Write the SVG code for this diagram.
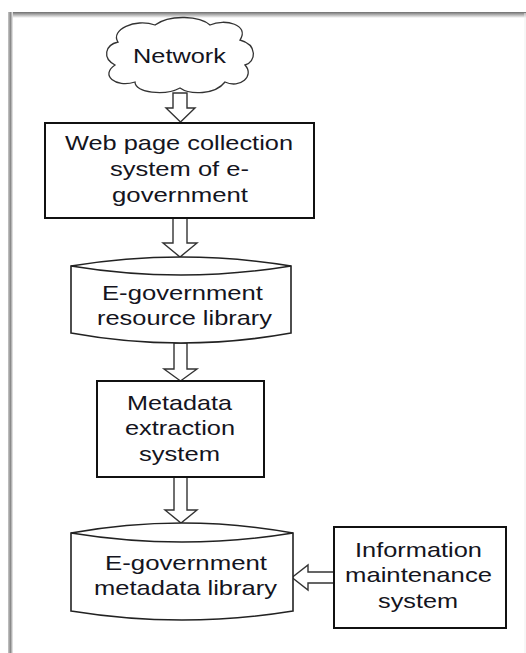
<svg xmlns="http://www.w3.org/2000/svg" width="526" height="653" viewBox="0 0 526 653">
<defs>
<linearGradient id="gTop" x1="0" y1="0" x2="0" y2="1"><stop offset="0" stop-color="#6e6e6e"/><stop offset="1" stop-color="#ffffff"/></linearGradient>
<linearGradient id="gLeft" x1="0" y1="0" x2="1" y2="0"><stop offset="0" stop-color="#c8c8c8"/><stop offset="0.5" stop-color="#8a8a8a"/><stop offset="1" stop-color="#f2f2f2"/></linearGradient>
<style>
.lbl{font-family:"Liberation Sans",Arial,sans-serif;font-size:21px;fill:#141420}
.box{fill:#fff;stroke:#111;stroke-width:2}
.cyl{fill:#fff;stroke:#222;stroke-width:1.6}
.cloud{fill:#fff;stroke:#333;stroke-width:1.3}
.arr{fill:#fff;stroke:#333;stroke-width:1.4;stroke-linejoin:miter}
</style>
</defs>
<rect x="0" y="0" width="526" height="653" fill="#fff"/>
<g id="frame">
<rect x="8" y="12" width="518" height="6" fill="url(#gTop)"/>
<rect x="8" y="12" width="5" height="641" fill="url(#gLeft)"/>
<line x1="525" y1="13" x2="525" y2="653" stroke="#eeeeee" stroke-width="1"/>
</g>
<g id="connectors">
<path class="arr" d="M173,93 L187,93 L187,108 L195,108 L180.5,122 L166,108 L173,108 Z"/>
<path class="arr" d="M173,218 L187,218 L187,243 L197,243 L180,257 L163,243 L173,243 Z"/>
<path class="arr" d="M174,343 L187,343 L187,369 L197,369 L180.5,381 L164,369 L174,369 Z"/>
<path class="arr" d="M174,477 L187,477 L187,510 L197,510 L181,523 L165,510 L174,510 Z"/>
<path class="arr" d="M334,572 L308,572 L308,565 L292,577.5 L308,590 L308,583 L334,583 Z"/>
</g>
<g id="network">
<path class="cloud" d="M118,42 C110,30 135,18 155,25 C170,14 200,16 210,25 C225,18 250,25 240,40 C258,45 256,62 245,65 C255,76 240,89 225,82 C215,95 190,95 180,88 C165,96 135,93 135,82 C115,88 100,75 115,65 C102,58 105,45 118,42 Z"/>
<text class="lbl" x="133" y="63" textLength="93" lengthAdjust="spacingAndGlyphs">Network</text>
</g>
<g id="webcollect">
<rect class="box" x="45" y="123" width="269" height="95"/>
<text class="lbl" x="65" y="150" textLength="228" lengthAdjust="spacingAndGlyphs">Web page collection</text>
<text class="lbl" x="110" y="176" textLength="139" lengthAdjust="spacingAndGlyphs">system of e-</text>
<text class="lbl" x="112" y="202" textLength="136" lengthAdjust="spacingAndGlyphs">government</text>
</g>
<g id="resourcelib">
<path class="cyl" d="M71,266 Q181,248 291,266 L291,333 Q181,353 71,333 Z"/>
<path class="cyl" fill="none" d="M71,266 Q181,284 291,266"/>
<text class="lbl" x="102" y="300" textLength="161" lengthAdjust="spacingAndGlyphs">E-government</text>
<text class="lbl" x="97" y="325" textLength="175" lengthAdjust="spacingAndGlyphs">resource library</text>
</g>
<g id="metaextract">
<rect class="box" x="97" y="381" width="167" height="96"/>
<text class="lbl" x="127" y="410" textLength="105" lengthAdjust="spacingAndGlyphs">Metadata</text>
<text class="lbl" x="125" y="435" textLength="110" lengthAdjust="spacingAndGlyphs">extraction</text>
<text class="lbl" x="139" y="461" textLength="81" lengthAdjust="spacingAndGlyphs">system</text>
</g>
<g id="metalib">
<path class="cyl" d="M71,533 Q182,513 293,533 L293,611 Q182,629 71,611 Z"/>
<path class="cyl" fill="none" d="M71,533 Q182,551 293,533"/>
<text class="lbl" x="105" y="570" textLength="162" lengthAdjust="spacingAndGlyphs">E-government</text>
<text class="lbl" x="94" y="595" textLength="183" lengthAdjust="spacingAndGlyphs">metadata library</text>
</g>
<g id="infomaint">
<rect class="box" x="334" y="527" width="172" height="101"/>
<text class="lbl" x="355" y="557" textLength="127" lengthAdjust="spacingAndGlyphs">Information</text>
<text class="lbl" x="345" y="582" textLength="147" lengthAdjust="spacingAndGlyphs">maintenance</text>
<text class="lbl" x="378" y="608" textLength="80" lengthAdjust="spacingAndGlyphs">system</text>
</g>
</svg>
